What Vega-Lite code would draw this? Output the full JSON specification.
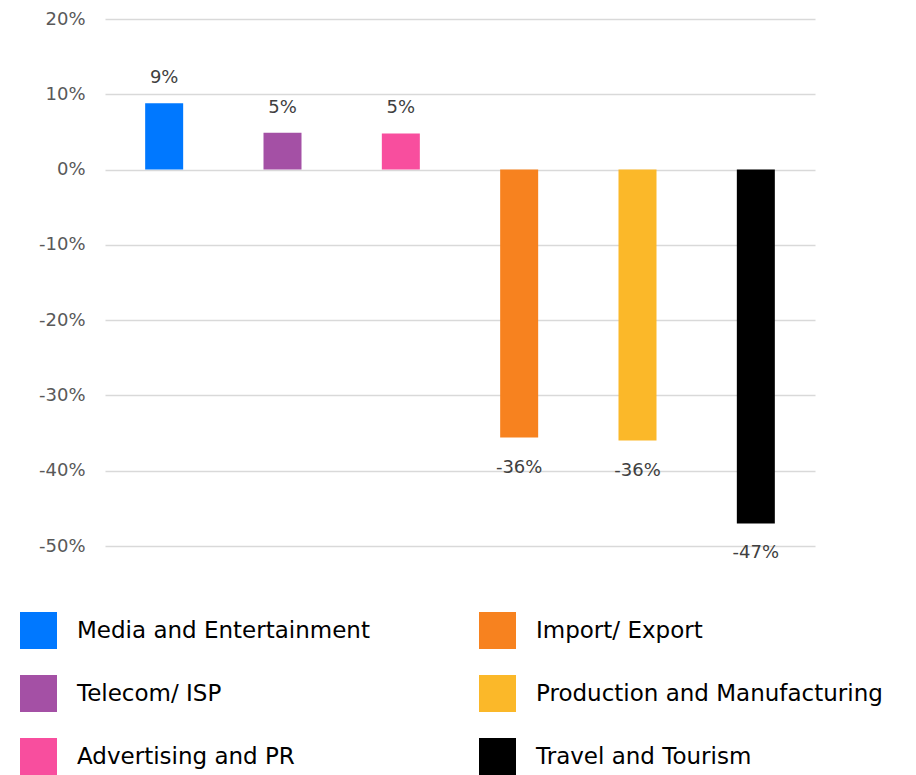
{
  "$schema": "https://vega.github.io/schema/vega-lite/v6.json",
  "autosize": {"type": "none"},
  "padding": {"left": 105, "top": 19, "right": 101, "bottom": 229},
  "width": 710,
  "height": 527,
  "background": "#ffffff",
  "config": {"view": {"stroke": null}, "font": "DejaVu Sans"},
  "data": {
    "values": [
      {"category": "Media and Entertainment", "value": 0.088},
      {"category": "Telecom/ ISP", "value": 0.049},
      {"category": "Advertising and PR", "value": 0.048},
      {"category": "Import/ Export", "value": -0.356},
      {"category": "Production and Manufacturing", "value": -0.36},
      {"category": "Travel and Tourism", "value": -0.47}
    ]
  },
  "encoding": {
    "x": {
      "field": "category",
      "type": "nominal",
      "sort": ["Media and Entertainment", "Telecom/ ISP", "Advertising and PR", "Import/ Export", "Production and Manufacturing", "Travel and Tourism"],
      "scale": {"paddingInner": 0, "paddingOuter": 0},
      "axis": null
    },
    "y": {
      "field": "value",
      "type": "quantitative",
      "scale": {"domain": [-0.5, 0.2], "nice": false, "zero": false},
      "axis": {
        "title": null,
        "format": ".0%",
        "labelExpr": "replace(datum.label, '\u2212', '-')",
        "values": [-0.5, -0.4, -0.3, -0.2, -0.1, 0, 0.1, 0.2],
        "ticks": false,
        "domain": false,
        "labelFontSize": 18,
        "labelColor": "#595959",
        "labelPadding": 20,
        "gridColor": "#D9D9D9",
        "gridWidth": 1.5
      }
    }
  },
  "layer": [
    {
      "mark": {"type": "bar", "size": 38},
      "encoding": {
        "color": {
          "field": "category",
          "type": "nominal",
          "scale": {
            "domain": ["Media and Entertainment", "Telecom/ ISP", "Advertising and PR", "Import/ Export", "Production and Manufacturing", "Travel and Tourism"],
            "range": ["#0078FF", "#A450A5", "#F84E9E", "#F7821F", "#FBB829", "#000000"]
          },
          "legend": {
            "title": null,
            "orient": "none",
            "legendX": -85,
            "legendY": 593,
            "columns": 2,
            "symbolType": "square",
            "symbolSize": 1369,
            "symbolStrokeWidth": 0,
            "labelFont": "DejaVu Sans",
            "labelFontSize": 23,
            "labelColor": "#000000",
            "labelOffset": 20,
            "labelLimit": 500,
            "rowPadding": 26,
            "columnPadding": 109,
            "padding": 0
          }
        }
      }
    },
    {
      "transform": [{"filter": "datum.value >= 0"}],
      "mark": {"type": "text", "fontSize": 18, "color": "#404040", "baseline": "middle", "dy": -25, "text": {"expr": "replace(format(datum.value, '.0%'), '\u2212', '-')"}},
      "encoding": {}
    },
    {
      "transform": [{"filter": "datum.value < 0"}],
      "mark": {"type": "text", "fontSize": 18, "color": "#404040", "baseline": "middle", "dy": 30, "text": {"expr": "replace(format(datum.value, '.0%'), '\u2212', '-')"}},
      "encoding": {}
    }
  ]
}
